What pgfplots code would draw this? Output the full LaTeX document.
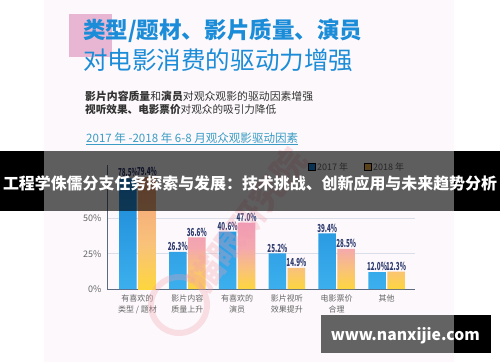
\documentclass[border=0pt]{standalone}
\usepackage{pgfplots}
\pgfplotsset{compat=1.18}
\usepackage{fontspec}
\setmainfont{Noto Sans CJK SC}
\usepackage{graphicx}
\definecolor{bgpink}{HTML}{FCF8FB}
\definecolor{sqpink}{HTML}{E8B6D2}
\definecolor{titleblue}{HTML}{1B8CD8}
\definecolor{subgray}{HTML}{333333}
\definecolor{teal}{HTML}{3A9CC4}
\definecolor{blueTop}{HTML}{1A86D6}
\definecolor{blueBot}{HTML}{3CB0EE}
\definecolor{pinkTop}{HTML}{F09AB6}
\definecolor{pinkMid}{HTML}{F4A8AE}
\definecolor{peach}{HTML}{F9C27A}
\definecolor{yellowBot}{HTML}{FDD63E}
\definecolor{orangeTop}{HTML}{F4A07A}
\definecolor{navy}{HTML}{2D3A6E}
\definecolor{gridgray}{HTML}{D9DEE8}
\definecolor{axisgray}{HTML}{5B6B82}
\definecolor{labgray}{HTML}{666666}
\definecolor{legblue}{HTML}{1A88D8}
\definecolor{legorange}{HTML}{F2AE48}
\definecolor{wmpink}{HTML}{F2A0AE}
\pgfdeclareverticalshading{pinkyellow}{100bp}{color(0bp)=(yellowBot); color(25bp)=(yellowBot); color(40bp)=(peach); color(56bp)=(pinkMid); color(75bp)=(pinkTop); color(100bp)=(pinkTop)}
\pgfdeclareverticalshading{orangeyellow}{100bp}{color(0bp)=(yellowBot); color(25bp)=(yellowBot); color(45bp)=(peach); color(75bp)=(orangeTop); color(100bp)=(orangeTop)}
\begin{document}
\begin{tikzpicture}
\useasboundingbox (0pt,0pt) rectangle (500pt,362pt);
\begin{scope}[x=1pt,y=1pt]
\fill[white] (0,0) rectangle (500,362);
\fill[bgpink] (44,0) rectangle (454,362);
\fill[sqpink] (69,305.3) rectangle (111.7,348);
\node[anchor=west,inner sep=0,text=titleblue] at (83,331.5) {\resizebox{279pt}{!}{\fontsize{22}{22}\selectfont\bfseries 类型/题材、影片质量、演员}};
\node[anchor=west,inner sep=0,text=titleblue] at (83,302) {\resizebox{270pt}{!}{\fontsize{24}{24}\selectfont 对电影消费的驱动力增强}};
\node[anchor=west,inner sep=0,text=subgray] at (85,266) {\resizebox{228pt}{!}{\fontsize{11}{11}\selectfont{\bfseries 影片内容质量}和{\bfseries 演员}对观众观影的驱动因素增强}};
\node[anchor=west,inner sep=0,text=subgray] at (85,253) {\resizebox{191pt}{!}{\fontsize{11}{11}\selectfont{\bfseries 视听效果、电影票价}对观众的吸引力降低}};
\node[anchor=west,inner sep=0,text=teal] at (86,224) {\resizebox{212pt}{!}{\fontsize{11}{11}\selectfont 2017 年 -2018 年 6-8 月观众观影驱动因素}};
\draw[teal,line width=0.7pt] (86,218) -- (298,218);
\end{scope}
\begin{axis}[
  at={(107pt,73pt)}, anchor=south west,
  scale only axis, width=308pt, height=124.1pt,
  xmin=-0.612, xmax=5.572, ymin=0, ymax=88,
  axis x line*=bottom, axis y line*=left,
  axis line style={draw=axisgray, line width=0.8pt, -},
  major tick length=0,
  /pgf/number format/assume math mode=true,
  ytick={0,25,50},
  yticklabel={\pgfmathprintnumber{\tick}\%},
  yticklabel style={font=\fontsize{9}{9}\selectfont, text=labgray, xshift=-2pt},
  ymajorgrids, grid style={gridgray, line width=0.6pt},
  xtick={0,1,2,3,4,5},
  xticklabels={{有喜欢的\\类型 / 题材},{影片内容\\质量上升},{有喜欢的\\演员},{影片视听\\效果提升},{电影票价\\合理},{其他}},
  xticklabel style={font=\fontsize{8}{11}\selectfont, text=labgray, align=center, yshift=-2.5pt},
  clip=false,
  legend style={at={(0.643,0.983)}, anchor=west, draw=none, fill=none,
    legend columns=2, font=\fontsize{9}{9}\selectfont, text=labgray,
    /tikz/every even column/.append style={column sep=14pt}},
  legend image code/.code={\fill[#1] (0pt,-3pt) rectangle (6.5pt,3.5pt);},
  nodes near coords={\scalebox{0.57}[1]{\bfseries\pgfmathprintnumber[fixed,fixed zerofill,precision=1]{\pgfplotspointmeta}\%}},
  every node near coord/.append style={font=\fontsize{11}{11}\selectfont, text=navy, inner sep=0.5pt, yshift=0.5pt},
]
\addlegendimage{fill=legblue}
\addlegendimage{fill=legorange}
\legend{2017 年, 2018 年}
\addplot[ybar, forget plot, bar width=17.5pt, bar shift=-9.5pt, draw=none, top color=blueTop, bottom color=blueBot,
  every node near coord/.append style={xshift=-9.5pt}]
  coordinates {(0,78.5) (1,26.3) (2,40.6) (3,25.2) (4,39.4) (5,12.0)};
\addplot[ybar, forget plot, bar width=17.5pt, bar shift=9.5pt, draw=none, shading=orangeyellow,
  every node near coord/.append style={xshift=9.5pt}]
  coordinates {(0,79.4)};
\addplot[ybar, forget plot, bar width=17.5pt, bar shift=9.5pt, draw=none, shading=pinkyellow,
  every node near coord/.append style={xshift=9.5pt}]
  coordinates {(1,36.6) (2,47.0) (3,14.9) (4,28.5) (5,12.3)};
\end{axis}
\begin{scope}[x=1pt,y=1pt]
\node[rotate=53, text=wmpink, opacity=0.3, font=\fontsize{34}{34}\selectfont\bfseries] at (247,142) {猫眼研究院};
\draw[wmpink, opacity=0.3, line width=6pt] (179,57) circle (28);
\fill[black, opacity=0.62] (44,151) rectangle (454,211);
\fill[black] (0,151) rectangle (44,211);
\fill[black] (454,151) rectangle (500,211);
\node[text=white,inner sep=0] at (250,179) {\resizebox{494pt}{!}{\fontsize{16}{16}\selectfont\bfseries 工程学侏儒分支任务探索与发展：技术挑战、创新应用与未来趋势分析}};
\fill[black, opacity=0.6] (321,9.3) rectangle (454,47);
\fill[black] (454,9.3) rectangle (490.7,47);
\node[text=white,inner sep=0] at (405.3,26) {\resizebox{149pt}{!}{\fontsize{16}{16}\selectfont\bfseries www.nanxijie.com}};
\end{scope}
\end{tikzpicture}
\end{document}
